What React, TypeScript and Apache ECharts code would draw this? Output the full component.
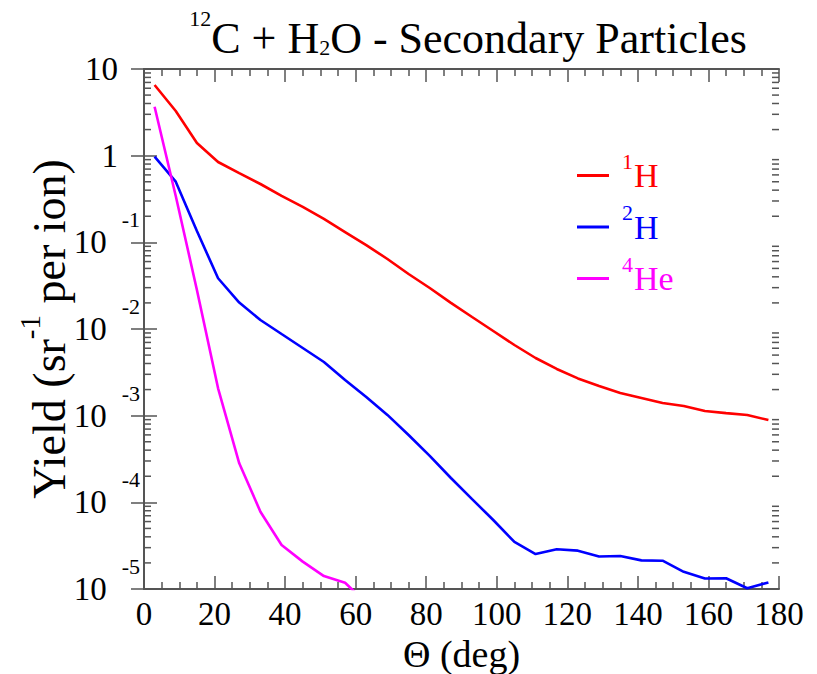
import React, { useEffect, useRef } from "react";
import * as echarts from "echarts";

// Emission angle (deg), bin centres
const theta = [3, 9, 15, 21, 27, 33, 39, 45, 51, 57, 63, 69, 75, 81, 87, 93, 99, 105, 111, 117, 123, 129, 135, 141, 147, 153, 159, 165, 171, 177];

// Yields (sr^-1 per ion)
const yieldH1 = [6.54, 3.28, 1.4, 0.845, 0.63, 0.471, 0.343, 0.256, 0.186, 0.1315, 0.093, 0.0642, 0.0431, 0.0297, 0.02, 0.01375, 0.00948, 0.00654, 0.00463, 0.00346, 0.00269, 0.0022, 0.00183, 0.0016, 0.0014, 0.00129, 0.00113, 0.00107, 0.00102, 0.00089];
const yieldH2 = [0.973, 0.501, 0.135, 0.0385, 0.0202, 0.0127, 0.00875, 0.00604, 0.00416, 0.00258, 0.00164, 0.00102, 5.98e-4, 3.43e-4, 1.91e-4, 1.09e-4, 6.25e-5, 3.49e-5, 2.53e-5, 2.87e-5, 2.77e-5, 2.37e-5, 2.4e-5, 2.14e-5, 2.12e-5, 1.58e-5, 1.32e-5, 1.33e-5, 1.02e-5, 1.19e-5];
const yieldHe4 = [3.67, 0.343, 0.0282, 0.00207, 2.82e-4, 7.8e-5, 3.22e-5, 2.07e-5, 1.41e-5, 1.18e-5, 6.9e-6];

const seriesNames = ["1H", "2H", "4He"];
const seriesColors = ["#ff0000", "#0000ff", "#ff00ff"];
const legendSup = ["1", "2", "4"];
const legendMain = ["H", "H", "He"];

const xTicks = [0, 20, 40, 60, 80, 100, 120, 140, 160, 180];
const decades = [1e-5, 1e-4, 1e-3, 1e-2, 1e-1, 1];
const minorMultipliers = [2, 3, 4, 5, 6, 7, 8, 9];

const FONT = "serif";
const AXIS_COLOR = "#555555";

export default function App() {
  const ref = useRef<HTMLDivElement>(null);

  useEffect(() => {
    if (!ref.current) return;
    const chart = echarts.init(ref.current, null, { renderer: "svg" });

    const minorData: number[][] = [];
    decades.forEach((d) => minorMultipliers.forEach((m) => minorData.push([0, d * m])));

    const ySeries = [yieldH1, yieldH2, yieldHe4];

    const legendRich: any = {};
    seriesNames.forEach((n, i) => {
      legendRich["s" + i] = { fontFamily: FONT, fontSize: 22, height: 11, lineHeight: 10, verticalAlign: "top", color: seriesColors[i], padding: [0, 1, 0, 0] };
      legendRich["n" + i] = { fontFamily: FONT, fontSize: 34, lineHeight: 40, color: seriesColors[i] };
    });

    const option: any = {
      animation: false,
      backgroundColor: "#ffffff",
      textStyle: { fontFamily: FONT },
      title: {
        text: "{sup|12}{n|C + H}{sub|2}{n|O - Secondary Particles}",
        left: 463,
        top: 3,
        textAlign: "center",
        textStyle: {
          fontFamily: FONT,
          fontWeight: "normal",
          fontSize: 44,
          rich: {
            n: { fontFamily: FONT, fontSize: 44, lineHeight: 60, color: "#000" },
            sup: { fontFamily: FONT, fontSize: 22, height: 21, lineHeight: 10, verticalAlign: "top", color: "#000" },
            sub: { fontFamily: FONT, fontSize: 22, height: 41, lineHeight: 10, verticalAlign: "bottom", color: "#000" },
          },
        },
      },
      legend: {
        orient: "vertical",
        left: 572,
        top: 145,
        icon: "rect",
        itemWidth: 32,
        itemHeight: 3,
        itemGap: 9,
        data: seriesNames,
        formatter: (name: string) => {
          const i = seriesNames.indexOf(name);
          return `{s${i}|${legendSup[i]}}{n${i}|${legendMain[i]}}`;
        },
        textStyle: { fontFamily: FONT, padding: [0, 0, 0, 8], rich: legendRich },
        selectedMode: false,
      },
      grid: { left: 144, right: 38, top: 69, bottom: 85, containLabel: false, outerBoundsMode: "none" },
      xAxis: [
        {
          type: "value",
          min: 0,
          max: 180,
          interval: 20,
          position: "bottom",
          name: "Θ (deg)",
          nameLocation: "middle",
          nameGap: 48,
          nameMoveOverlap: false,
          nameTextStyle: { fontFamily: FONT, fontSize: 38, lineHeight: 34, color: "#000" },
          axisLine: { show: true, lineStyle: { color: AXIS_COLOR, width: 2 } },
          axisTick: { show: true, inside: true, length: 13, lineStyle: { color: AXIS_COLOR, width: 1.5 } },
          minorTick: { show: true, splitNumber: 4, length: 7, lineStyle: { color: AXIS_COLOR, width: 1.5 } },
          splitLine: { show: false },
          axisLabel: {
            margin: 9,
            fontFamily: FONT,
            fontSize: 33,
            lineHeight: 32,
            color: "#000",
            showMinLabel: true,
            showMaxLabel: true,
            formatter: (v: number) => (xTicks.indexOf(v) >= 0 ? String(v) : ""),
          },
        },
        {
          type: "value",
          min: 0,
          max: 180,
          interval: 20,
          position: "top",
          axisLine: { show: true, lineStyle: { color: AXIS_COLOR, width: 2 } },
          axisTick: { show: true, inside: true, length: 13, lineStyle: { color: AXIS_COLOR, width: 1.5 } },
          minorTick: { show: true, splitNumber: 4, length: 7, lineStyle: { color: AXIS_COLOR, width: 1.5 } },
          splitLine: { show: false },
          axisLabel: { show: false },
        },
      ],
      yAxis: [
        {
          type: "log",
          logBase: 10,
          min: 1e-5,
          max: 10,
          position: "left",
          name: "{n|Yield (sr}{sup|-1}{n| per ion)}",
          nameLocation: "middle",
          nameRotate: 90,
          nameGap: 60,
          nameMoveOverlap: false,
          nameTextStyle: {
            fontFamily: FONT,
            fontSize: 46,
            rich: {
              n: { fontFamily: FONT, fontSize: 46, lineHeight: 70, color: "#000" },
              sup: { fontFamily: FONT, fontSize: 29, height: 32, lineHeight: 10, verticalAlign: "top", color: "#000" },
            },
          },
          axisLine: { show: true, lineStyle: { color: AXIS_COLOR, width: 2 } },
          axisTick: { show: true, inside: true, length: 13, lineStyle: { color: AXIS_COLOR, width: 1.5 } },
          splitLine: { show: false },
          axisLabel: {
            margin: 4,
            fontFamily: FONT,
            showMinLabel: true,
            showMaxLabel: true,
            formatter: (v: number) => {
              const e = Math.round(Math.log10(v));
              if (e === 1) return "{b|10}{sp|}";
              if (e === 0) return "{b|1}{sp|}";
              return `{b|10}{e|${e}}`;
            },
            rich: {
              b: { fontFamily: FONT, fontSize: 33, lineHeight: 65, color: "#000" },
              e: { fontFamily: FONT, fontSize: 22, height: 20, lineHeight: 10, verticalAlign: "top", color: "#000", padding: [0, 0, 0, 15] },
              sp: { width: 22 },
            },
          },
        },
        {
          type: "log",
          logBase: 10,
          min: 1e-5,
          max: 10,
          position: "right",
          axisLine: { show: true, lineStyle: { color: AXIS_COLOR, width: 2 } },
          axisTick: { show: true, inside: true, length: 13, lineStyle: { color: AXIS_COLOR, width: 1.5 } },
          splitLine: { show: false },
          axisLabel: { show: false },
        },
      ],
      series: [
        ...ySeries.map((ys, i) => ({
          name: seriesNames[i],
          type: "line",
          xAxisIndex: 0,
          yAxisIndex: 0,
          showSymbol: false,
          symbol: "none",
          clip: true,
          color: seriesColors[i],
          lineStyle: { color: seriesColors[i], width: 2.6 },
          data: ys.map((y, j) => [theta[j], y]),
          z: 3,
        })),
        {
          name: "minorTicks",
          type: "custom",
          xAxisIndex: 0,
          yAxisIndex: 0,
          silent: true,
          clip: false,
          data: minorData,
          renderItem: (params: any, api: any) => {
            const v = api.value(1);
            const pL = api.coord([0, v]);
            const pR = api.coord([180, v]);
            return {
              type: "group",
              children: [
                { type: "line", shape: { x1: pL[0], y1: pL[1], x2: pL[0] + 7, y2: pL[1] }, style: { stroke: AXIS_COLOR, lineWidth: 1.5 } },
                { type: "line", shape: { x1: pR[0] - 7, y1: pR[1], x2: pR[0], y2: pR[1] }, style: { stroke: AXIS_COLOR, lineWidth: 1.5 } },
              ],
            };
          },
          z: 2,
        },
      ],
    };

    chart.setOption(option);
    return () => chart.dispose();
  }, []);

  return <div ref={ref} style={{ position: "fixed", left: 0, top: 0, width: 817, height: 674, background: "#fff" }} />;
}
